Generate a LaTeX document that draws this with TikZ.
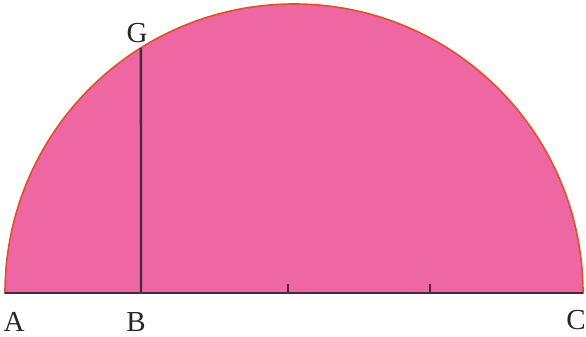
\documentclass[tikz,border=0pt]{standalone}
\usepackage{fontspec}
\setmainfont{Liberation Serif}
\usetikzlibrary{calc}
\definecolor{discpink}{RGB}{238,102,162}
\definecolor{rimred}{RGB}{222,82,40}
\definecolor{inkline}{RGB}{72,42,62}

\begin{document}
\begin{tikzpicture}[
  x=1pt, y=1pt,
  lbl/.style={font=\fontsize{29}{32}\selectfont, text=black!85, inner sep=0pt},
  rim/.style={draw=rimred, line width=1.6pt, fill=discpink},
  seg/.style={draw=inkline, line width=2.3pt},
  tick/.style={draw=inkline, line width=2pt}
]
\useasboundingbox (0,0) rectangle (586,337);
\coordinate (A) at (5,44);
\coordinate (C) at (583,44);
\coordinate (O) at (294,44);
\coordinate (B) at (141,44);
\coordinate (G) at ($(O)+(122:289)$);
\coordinate (T1) at (288,44);
\coordinate (T2) at (430,44);

% half disc
\path[rim] (A) arc[start angle=180, end angle=0, radius=289] -- cycle;
\draw[seg] (A) -- (C);
\draw[seg] (B) -- (G);
\draw[tick] (T1) -- ++(0,9);
\draw[tick] (T2) -- ++(0,9);

\node[lbl] (a) at (14,15) {A};
\node[lbl] (b) at (136,15) {B};
\node[lbl] (c) at (576,17) {C};
\node[lbl] (g) at (137,304) {G};
\end{tikzpicture}
\end{document}
